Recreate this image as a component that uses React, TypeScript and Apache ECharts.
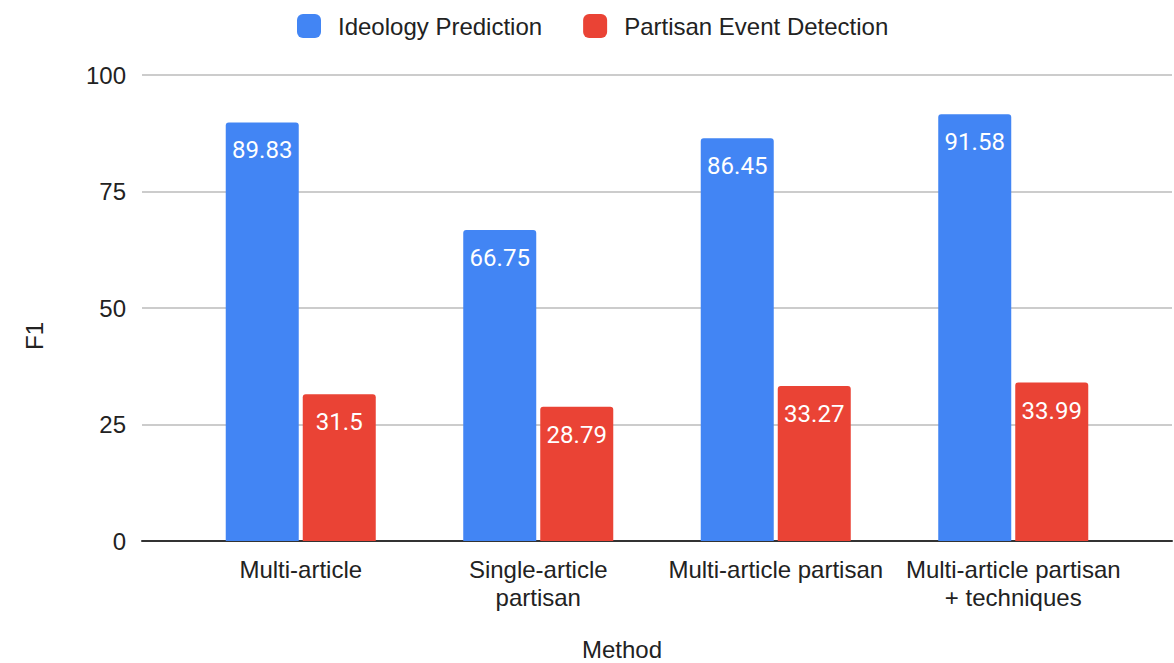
import React, { useEffect, useRef } from "react";
import * as echarts from "echarts";

const categories = [
  "Multi-article",
  "Single-article\npartisan",
  "Multi-article partisan",
  "Multi-article partisan\n+ techniques",
];
const ideologyPrediction = [89.83, 66.75, 86.45, 91.58];
const partisanEventDetection = [31.5, 28.79, 33.27, 33.99];
const yTicks = { min: 0, max: 100, interval: 25 };

export default function App() {
  const ref = useRef<HTMLDivElement>(null);
  useEffect(() => {
    if (!ref.current) return;
    const chart = echarts.init(ref.current, undefined, { renderer: "svg" });
    const labelStyle = {
      show: true,
      position: "insideTop",
      distance: 16,
      color: "#ffffff",
      fontSize: 24,
      fontFamily: "Roboto",
    };
    chart.setOption({
      animation: false,
      backgroundColor: "#ffffff",
      textStyle: { fontFamily: "Liberation Sans" },
      legend: {
        top: 9,
        left: 292,
        itemWidth: 24,
        itemHeight: 24,
        itemGap: 41,
        icon: "roundRect",
        textStyle: { fontSize: 24, color: "#222", fontFamily: "Liberation Sans", padding: [0, 0, 0, 12] },
        data: ["Ideology Prediction", "Partisan Event Detection"],
      },
      grid: [
        { left: 182, right: 42, top: 75, bottom: 122 },
        { left: 142, right: 2, top: 75, bottom: 122 },
      ],
      xAxis: [
        {
          type: "category",
          gridIndex: 0,
          data: categories,
          axisLine: { show: false },
          axisTick: { show: false },
          axisLabel: {
            color: "#222",
            fontSize: 24,
            fontFamily: "Liberation Sans",
            lineHeight: 28,
            margin: 14,
            interval: 0,
          },
        },
        {
          type: "value",
          gridIndex: 1,
          min: 0,
          max: 1,
          axisLine: { show: true, lineStyle: { color: "#333", width: 2 } },
          axisTick: { show: false },
          axisLabel: { show: false },
          splitLine: { show: false },
        },
      ],
      yAxis: [
        {
          type: "value",
          gridIndex: 0,
          ...yTicks,
          show: false,
          splitLine: { show: false },
        },
        {
          type: "value",
          gridIndex: 1,
          ...yTicks,
          axisLine: { show: false },
          axisTick: { show: false },
          axisLabel: {
            color: "#222",
            fontSize: 24,
            fontFamily: "Liberation Sans",
            margin: 16,
          },
          splitLine: { show: true, lineStyle: { color: "#cccccc", width: 2 } },
        },
      ],
      series: [
        {
          name: "Ideology Prediction",
          type: "bar",
          xAxisIndex: 0,
          yAxisIndex: 0,
          data: ideologyPrediction,
          barWidth: 73,
          barGap: "5.5%",
          itemStyle: { color: "#4285F4", borderRadius: [3, 3, 0, 0] },
          label: labelStyle,
        },
        {
          name: "Partisan Event Detection",
          type: "bar",
          xAxisIndex: 0,
          yAxisIndex: 0,
          data: partisanEventDetection,
          barWidth: 73,
          barGap: "5.5%",
          itemStyle: { color: "#EA4335", borderRadius: [3, 3, 0, 0] },
          label: labelStyle,
        },
      ],
      graphic: [
        {
          type: "text",
          x: 34,
          y: 336,
          rotation: Math.PI / 2,
          style: {
            text: "F1",
            fill: "#222",
            font: "24px 'Liberation Sans'",
            align: "center",
            verticalAlign: "middle",
          },
        },
        {
          type: "text",
          x: 622,
          y: 649,
          style: {
            text: "Method",
            fill: "#222",
            font: "24px 'Liberation Sans'",
            align: "center",
            verticalAlign: "middle",
          },
        },
      ],
    });
    return () => chart.dispose();
  }, []);
  return (
    <div
      ref={ref}
      style={{ position: "absolute", left: 0, top: 0, width: 1174, height: 663 }}
    />
  );
}
